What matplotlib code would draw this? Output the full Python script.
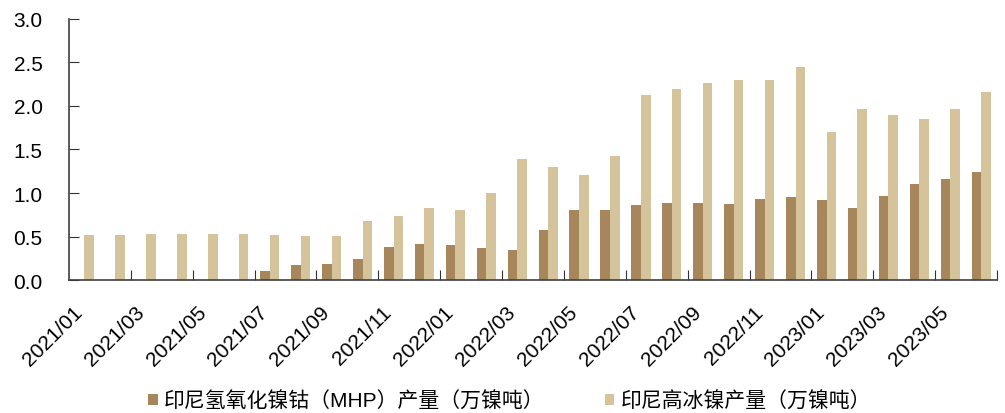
import numpy as np
import matplotlib
matplotlib.use('Agg')
import matplotlib.pyplot as plt

plt.rcParams['font.family'] = ['Liberation Sans', 'Noto Sans CJK SC', 'DejaVu Sans']

# données (万镍吨)
mois = ['2021/01', '2021/02', '2021/03', '2021/04', '2021/05', '2021/06',
        '2021/07', '2021/08', '2021/09', '2021/10', '2021/11', '2021/12',
        '2022/01', '2022/02', '2022/03', '2022/04', '2022/05', '2022/06',
        '2022/07', '2022/08', '2022/09', '2022/10', '2022/11', '2022/12',
        '2023/01', '2023/02', '2023/03', '2023/04', '2023/05', '2023/06']
mhp = [0, 0, 0, 0, 0, 0,
       0.11, 0.17, 0.18, 0.245, 0.38, 0.41,
       0.40, 0.37, 0.34, 0.58, 0.81, 0.81,
       0.86, 0.89, 0.89, 0.87, 0.935, 0.95,
       0.92, 0.83, 0.965, 1.10, 1.165, 1.24]
matte = [0.52, 0.52, 0.535, 0.535, 0.535, 0.535,
         0.52, 0.505, 0.505, 0.675, 0.735, 0.83,
         0.80, 1.00, 1.39, 1.30, 1.21, 1.425,
         2.13, 2.19, 2.265, 2.30, 2.30, 2.45,
         1.70, 1.96, 1.90, 1.85, 1.96, 2.16]
noms = ['印尼氢氧化镍钴（MHP）产量（万镍吨）', '印尼高冰镍产量（万镍吨）']
couleurs = ['#A8865C', '#D5C49B']

fig = plt.figure(figsize=(10.05, 4.14), dpi=100)
ax = fig.add_axes([0.0687, 0.321, 0.9233, 0.631])

x = np.arange(len(mois))
w = 0.31
ax.bar(x - w / 2 - 0.01, mhp, width=w, color=couleurs[0], label=noms[0])
ax.bar(x + w / 2 - 0.01, matte, width=w, color=couleurs[1], label=noms[1])

ax.set_xlim(-0.5, len(mois) - 0.5)
ax.set_ylim(0, 3.0)
ax.set_yticks(np.arange(0, 3.01, 0.5))
ax.set_yticklabels([f'{v:.1f}' for v in np.arange(0, 3.01, 0.5)], fontsize=15)

# ticks aux frontières, étiquettes au centre
ax.set_xticks(np.arange(1.5, len(mois), 2))
ax.set_xticklabels([])
ax.set_xticks(x[::2] + 0.05, minor=True)
ax.set_xticklabels(mois[::2], minor=True, rotation=45, ha='right', va='top',
                   fontsize=15)
ax.tick_params(axis='x', which='major', direction='in', length=7, color='#333333')
ax.tick_params(axis='x', which='minor', length=0, pad=16)
ax.tick_params(axis='y', direction='in', length=7, pad=19, color='#333333')

for s in ['top', 'right']:
    ax.spines[s].set_visible(False)
for s in ['left', 'bottom']:
    ax.spines[s].set_color('#404040')
    ax.spines[s].set_linewidth(1.2)

ax.legend(loc='center', bbox_to_anchor=(0.507, 0.029), bbox_transform=fig.transFigure,
          ncol=2, frameon=False, handlelength=0.45, handleheight=0.45,
          handletextpad=0.3, columnspacing=2.9,
          prop={'family': ['Liberation Sans', 'Noto Sans CJK SC'], 'size': 15})

fig.savefig('out.png', dpi=100)
